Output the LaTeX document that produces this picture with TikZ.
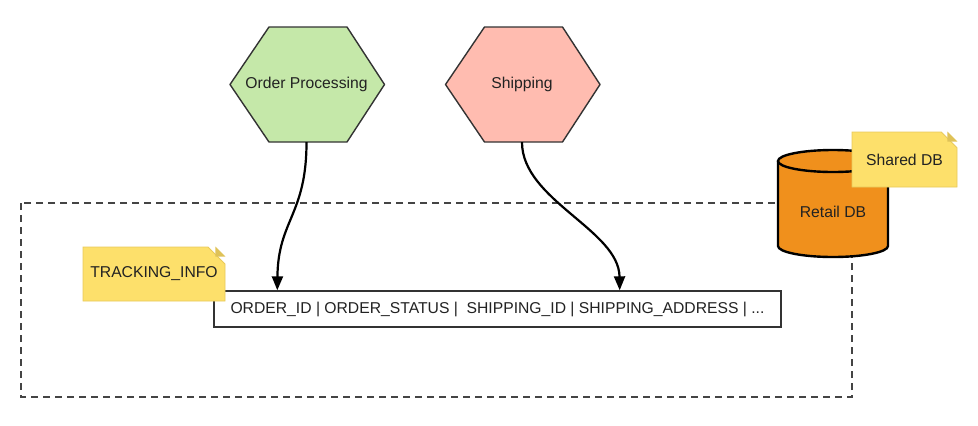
\documentclass[tikz,border=0pt]{standalone}
\usepackage{fontspec}
\setmainfont{Liberation Sans}
\usetikzlibrary{arrows.meta,shapes.misc,calc}
\definecolor{txt}{HTML}{222222}
\definecolor{edge}{HTML}{333333}
\definecolor{hexgreen}{HTML}{C5E8A9}
\definecolor{hexpink}{HTML}{FFBCB0}
\definecolor{dborange}{HTML}{F0901C}
\definecolor{noteyellow}{HTML}{FDE06B}
\definecolor{noteedge}{HTML}{E8C95A}
\definecolor{notefold}{HTML}{DFC258}
\definecolor{dashgray}{HTML}{444444}
\tikzset{
  lbl/.style={font=\fontsize{15.7}{19}\selectfont, text=txt},
  hexshape/.style={draw=edge, line width=1.4pt, line join=round},
  hexnode/.style={lbl, rectangle, minimum width=153pt, minimum height=115pt, inner sep=0pt},
  notenode/.style={lbl, chamfered rectangle, chamfered rectangle corners=north east,
    chamfered rectangle xsep=10pt, chamfered rectangle ysep=10pt,
    fill=noteyellow, draw=noteedge, line width=0.8pt, inner sep=0pt},
  foldtri/.style={fill=notefold},
  tablebox/.style={lbl, rectangle, draw=edge, line width=1.4pt, fill=white,
    minimum width=567pt, minimum height=36pt, inner sep=0pt},
  flow/.style={line width=2.2pt, -{Triangle[length=14pt,width=11pt]}},
  boundary/.style={draw=dashgray, line width=1.8pt, dash pattern=on 7pt off 5pt},
  dbbody/.style={fill=dborange, draw=black, line width=2.4pt},
}
\begin{document}
\begin{tikzpicture}[x=1pt,y=-1pt]
\useasboundingbox (0,0) rectangle (978,426);
% boundary of the shared database
\draw[boundary] (21,203) rectangle (852,397);
% hexagons
\coordinate (opc) at (306.5,84.5);
\coordinate (shc) at (522,84.5);
\draw[hexshape, fill=hexgreen] ($(opc)+(-76.5,0)$) -- ++(39,-57.5) -- ++(78,0) -- ++(37.5,57.5) -- ++(-37.5,57.5) -- ++(-78,0) -- cycle;
\draw[hexshape, fill=hexpink] ($(shc)+(-76.5,0)$) -- ++(39,-57.5) -- ++(78,0) -- ++(37.5,57.5) -- ++(-37.5,57.5) -- ++(-78,0) -- cycle;
\node[hexnode] (op) at (opc) {Order Processing};
\node[hexnode] (ship) at (shc) {Shipping};
% table row
\node[tablebox] (box) at (497.5,309) {ORDER\_ID | ORDER\_STATUS |\ \ SHIPPING\_ID | SHIPPING\_ADDRESS | ...};
% tracking note
\node[notenode, minimum width=142pt, minimum height=54pt] (track) at (154,274) {TRACKING\_INFO};
\fill[foldtri] ($(track.north -| track.east)+(-10,0)$) -- ($(track.north -| track.east)+(-10,10)$) -- ($(track.north -| track.east)+(0,10)$) -- cycle;
% database cylinder
\draw[dbbody] (778,161) -- (778,246) arc[start angle=180, end angle=0, x radius=55, y radius=11] -- (888,161);
\draw[dbbody] (833,161) ellipse[x radius=55, y radius=11];
\node[lbl] (db) at (833,212) {Retail DB};
% shared db note
\node[notenode, minimum width=105pt, minimum height=55pt] (shared) at (904.5,159.5) {Shared DB};
\fill[foldtri] ($(shared.north -| shared.east)+(-10,0)$) -- ($(shared.north -| shared.east)+(-10,10)$) -- ($(shared.north -| shared.east)+(0,10)$) -- cycle;
% connectors
\draw[flow] (op.south) .. controls (306.5,215) and (278,220) .. ([xshift=64pt]box.north west);
\draw[flow] (ship.south) .. controls (522,200) and (619,230) .. ([xshift=-162pt]box.north east);
\end{tikzpicture}
\end{document}
